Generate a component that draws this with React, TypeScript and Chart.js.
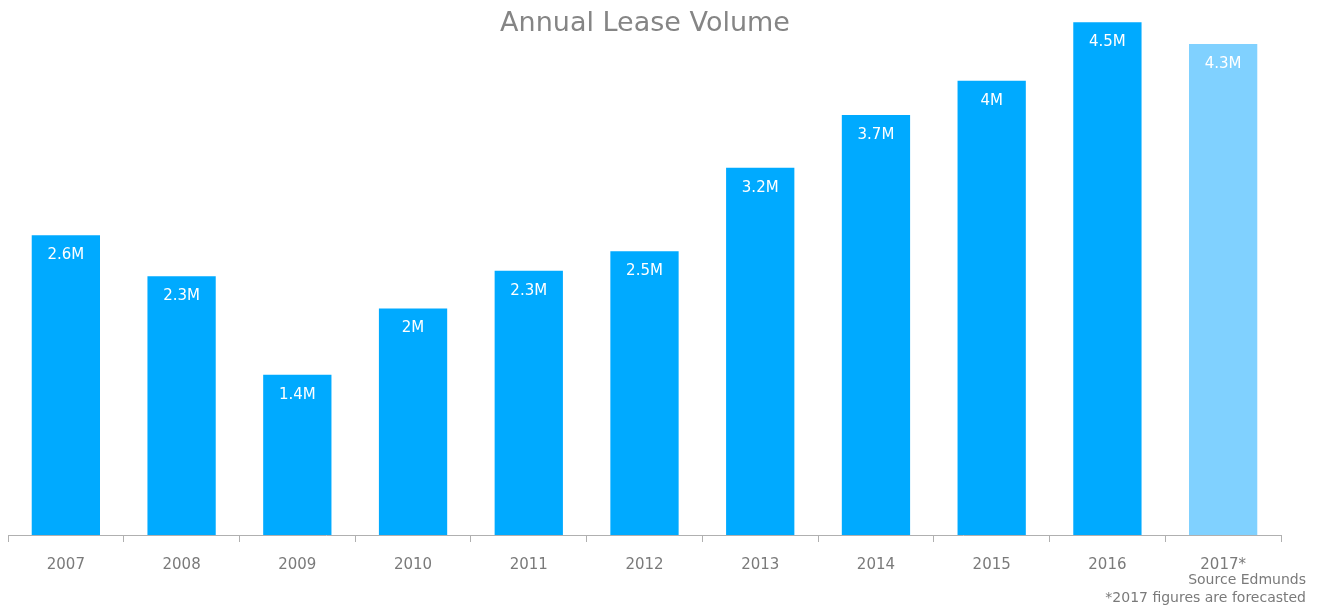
import React, { useEffect, useRef } from "react";
import { Chart, registerables } from "chart.js";

Chart.register(...registerables);

const years = ["2007", "2008", "2009", "2010", "2011", "2012", "2013", "2014", "2015", "2016", "2017*"];
const volumes = [2.62, 2.26, 1.4, 1.98, 2.31, 2.48, 3.21, 3.67, 3.97, 4.48, 4.29];
const valueLabels = ["2.6M", "2.3M", "1.4M", "2M", "2.3M", "2.5M", "3.2M", "3.7M", "4M", "4.5M", "4.3M"];
const barColors = ["#00AAFF", "#00AAFF", "#00AAFF", "#00AAFF", "#00AAFF", "#00AAFF", "#00AAFF", "#00AAFF", "#00AAFF", "#00AAFF", "#80D1FF"];
const titleText = "Annual Lease Volume";
const footnotes = ["Source Edmunds", "*2017 figures are forecasted"];

const FONT = "'DejaVu Sans', sans-serif";

const overlayPlugin = {
  id: "overlay",
  afterDatasetsDraw(chart: any) {
    const ctx = chart.ctx;
    const meta = chart.getDatasetMeta(0);
    ctx.save();
    ctx.fillStyle = "#ffffff";
    ctx.font = `15px ${FONT}`;
    ctx.textAlign = "center";
    ctx.textBaseline = "middle";
    meta.data.forEach((bar: any, i: number) => {
      ctx.fillText(valueLabels[i], bar.x, bar.y + 20);
    });
    ctx.restore();
  },
  afterDraw(chart: any) {
    const ctx = chart.ctx;
    ctx.save();
    ctx.fillStyle = "#858585";
    ctx.font = `27px ${FONT}`;
    ctx.textAlign = "center";
    ctx.textBaseline = "middle";
    ctx.fillText(titleText, 645, 24);
    ctx.font = `14px ${FONT}`;
    ctx.textAlign = "right";
    ctx.fillStyle = "#7a7a7a";
    ctx.fillText(footnotes[0], 1306, 580);
    ctx.fillText(footnotes[1], 1306, 598);
    ctx.restore();
  },
};

export default function App() {
  const ref = useRef<HTMLCanvasElement>(null);
  useEffect(() => {
    if (!ref.current) return;
    const chart = new Chart(ref.current, {
      type: "bar",
      data: {
        labels: years,
        datasets: [
          {
            data: volumes,
            backgroundColor: barColors,
            categoryPercentage: 0.59,
            barPercentage: 1,
          },
        ],
      },
      options: {
        animation: false,
        responsive: false,
        maintainAspectRatio: false,
        layout: { padding: { left: 8, right: 39, top: 20, bottom: 18 } },
        plugins: { legend: { display: false }, tooltip: { enabled: false }, title: { display: false } },
        scales: {
          x: {
            grid: { offset: true, drawOnChartArea: false, tickLength: 7, color: "#b0b0b0" },
            border: { color: "#b0b0b0", width: 1 },
            ticks: { color: "#7a7a7a", font: { family: FONT, size: 15 }, padding: 14, maxRotation: 0 },
          },
          y: { display: false, min: 0, max: 4.5 },
        },
      },
      plugins: [overlayPlugin],
    });
    return () => chart.destroy();
  }, []);
  return (
    <div style={{ position: "absolute", left: 0, top: 0, width: 1320, height: 606, background: "#fff" }}>
      <canvas ref={ref} width={1320} height={606} style={{ display: "block" }} />
    </div>
  );
}
